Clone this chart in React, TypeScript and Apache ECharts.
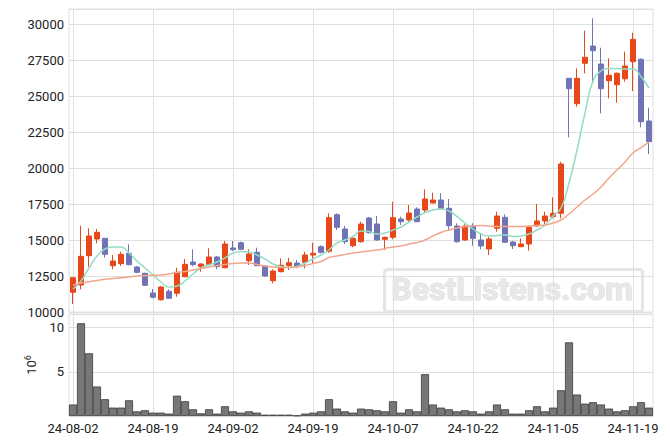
import React, { useEffect, useRef } from 'react';
import * as echarts from 'echarts';

const dates = [
  '24-08-02', '24-08-05', '24-08-06', '24-08-07', '24-08-08', '24-08-09', '24-08-12', '24-08-13', '24-08-14', '24-08-16',
  '24-08-19', '24-08-20', '24-08-21', '24-08-22', '24-08-23', '24-08-26', '24-08-27', '24-08-28', '24-08-29', '24-08-30',
  '24-09-02', '24-09-03', '24-09-04', '24-09-05', '24-09-06', '24-09-09', '24-09-10', '24-09-11', '24-09-12', '24-09-13',
  '24-09-19', '24-09-20', '24-09-23', '24-09-24', '24-09-25', '24-09-26', '24-09-27', '24-09-30', '24-10-02', '24-10-04',
  '24-10-07', '24-10-08', '24-10-10', '24-10-11', '24-10-14', '24-10-15', '24-10-16', '24-10-17', '24-10-18', '24-10-21',
  '24-10-22', '24-10-23', '24-10-24', '24-10-25', '24-10-28', '24-10-29', '24-10-30', '24-10-31', '24-11-01', '24-11-04',
  '24-11-05', '24-11-06', '24-11-07', '24-11-08', '24-11-11', '24-11-12', '24-11-13', '24-11-14', '24-11-15', '24-11-18',
  '24-11-19', '24-11-20', '24-11-21',
];

const opens = [
  11369, 11877, 13913, 15074, 15122, 13218, 13357, 14080, 13128, 12690,
  11321, 10855, 11439, 11300, 12453, 13475, 13149, 13315, 13823, 13079,
  14448, 14816, 13565, 14149, 13197, 12175, 12801, 13218, 13405, 13454,
  13962, 14538, 14219, 16762, 15769, 14608, 14886, 16533, 16116, 15053,
  15192, 16464, 16394, 17159, 17089, 17576, 17784, 17207, 15977, 15004,
  15977, 15004, 14379, 15817, 16582, 14865, 14538, 14726, 15977, 16325,
  16623, 16860, 26242, 24477, 27285, 28487, 27236, 26075, 25797, 26214,
  27396, 27563, 23275,
];
const closes = [
  12384, 13871, 15282, 15539, 14010, 13545, 14010, 13287, 12759, 11856,
  11022, 11738, 10952, 12759, 13315, 13287, 13336, 13823, 13149, 14726,
  14330, 14358, 14031, 13218, 12502, 12850, 13246, 13426, 13197, 13962,
  14080, 14149, 16554, 15887, 14886, 15122, 16116, 15511, 15004, 15192,
  16554, 16276, 16881, 16276, 17854, 17784, 17207, 15998, 14886, 15977,
  15122, 14587, 15074, 16672, 14844, 14608, 14726, 15887, 16325, 16672,
  16860, 20286, 25519, 26242, 27702, 28160, 25519, 26451, 26590, 27097,
  28953, 23226, 21836,
];
const lows = [
  10556, 11578, 13148, 14775, 13774, 12968, 13197, 13250, 12700, 11820,
  10952, 10785, 10904, 11063, 12410, 13176, 12801, 13218, 12968, 13040,
  14240, 14330, 13267, 13200, 12450, 11995, 12760, 12919, 13037, 13037,
  13385, 14080, 14121, 15699, 14726, 14497, 14816, 15450, 14955, 14309,
  15053, 16047, 16206, 16250, 16929, 17550, 17138, 15699, 14820, 14935,
  14608, 14358, 13962, 15581, 14800, 14379, 14520, 14260, 15930, 16095,
  16512, 16512, 22142, 24268, 26590, 25895, 23810, 24852, 24546, 26006,
  25360, 22837, 20981,
];
const highs = [
  12420, 15998, 15817, 15769, 15122, 13962, 14191, 14705, 13200, 12720,
  11599, 11800, 11578, 13079, 13684, 14357, 13380, 14427, 13900, 14935,
  14935, 14900, 14358, 14469, 13230, 12968, 13732, 13774, 13614, 14191,
  14816, 14630, 16860, 16860, 15977, 15233, 16276, 16600, 16672, 15240,
  17666, 16623, 17437, 17277, 18528, 18291, 18250, 17854, 16165, 16095,
  16165, 15470, 15233, 16971, 16790, 14935, 15122, 15998, 17506, 16971,
  17972, 20446, 26260, 26937, 29550, 30412, 28369, 27632, 26650, 28091,
  29411, 27632, 24199,
];
const ma5 = [
  11600, 12155, 13058, 13892, 14379, 14518, 14518, 14101, 13545, 13058,
  12572, 12085, 11738, 11807, 12155, 12641, 13058, 13267, 13475, 13753,
  14101, 14205, 14170, 13962, 13684, 13336, 13148, 13093, 13162, 13406,
  13684, 13962, 14309, 14796, 15004, 15247, 15630, 15595, 15421, 15491,
  15699, 15908, 16255, 16603, 16915, 17089, 17159, 17020, 16637, 16186,
  15769, 15421, 15282, 15317, 15352, 15247, 15282, 15421, 15699, 16047,
  16672, 17228, 18966, 21259, 23831, 26055, 26750, 26923, 26923, 26889,
  26889, 26367, 25568,
];
const ma20 = [
  11877, 12016, 12106, 12189, 12273, 12328, 12384, 12433, 12502, 12523,
  12551, 12572, 12641, 12745, 12815, 12919, 13023, 13128, 13232, 13301,
  13371, 13406, 13406, 13301, 13197, 13128, 13093, 13093, 13128, 13232,
  13371, 13510, 13788, 13892, 13996, 14101, 14170, 14240, 14309, 14413,
  14518, 14587, 14726, 14830, 15004, 15282, 15525, 15699, 15838, 15942,
  15977, 16012, 15977, 15942, 15942, 15942, 15942, 15977, 16012, 16047,
  16186, 16394, 16811, 17298, 17784, 18201, 18688, 19313, 19869, 20425,
  21051, 21433, 21815,
];
// volume in millions of shares
const volumes = [
  1.3, 10.5, 7.1, 3.34, 1.9, 0.95, 0.95, 1.78, 0.53, 0.65,
  0.38, 0.38, 0.27, 2.3, 1.67, 0.76, 0.3, 0.76, 0.27, 1.1,
  0.53, 0.38, 0.53, 0.38, 0.15, 0.15, 0.15, 0.15, 0.05, 0.27,
  0.38, 0.53, 1.9, 0.84, 0.53, 0.38, 0.84, 0.76, 0.65, 0.53,
  1.67, 0.38, 0.76, 0.53, 4.74, 1.3, 0.95, 0.76, 0.53, 0.65,
  0.53, 0.27, 0.53, 1.3, 0.76, 0.27, 0.27, 0.65, 1.1, 0.53,
  0.95, 2.92, 8.34, 2.43, 1.4, 1.56, 1.3, 0.84, 0.53, 0.65,
  1.1, 1.56, 0.95,
];

const UP = '#e8471a';
const DOWN = '#7174b4';
const GRID_LINE = '#e0e0e0';
const TEXT = '#222222';
const FONT = 'Roboto';

export default function App() {
  const ref = useRef<HTMLDivElement>(null);

  useEffect(() => {
    if (!ref.current) return;
    const chart = echarts.init(ref.current, null, { renderer: 'svg' });
    const candleData = dates.map((_, i) => [opens[i], closes[i], lows[i], highs[i]]);

    const option: any = {
      animation: false,
      backgroundColor: '#ffffff',
      textStyle: { fontFamily: FONT },
      grid: [
        { left: 69, width: 584, top: 9, height: 303, show: true, borderColor: GRID_LINE, borderWidth: 1 },
        { left: 69, width: 584, top: 314, height: 102, show: true, borderColor: GRID_LINE, borderWidth: 1 },
      ],
      xAxis: [
        {
          type: 'category', gridIndex: 0, data: dates, boundaryGap: true,
          axisLine: { show: false }, axisTick: { show: false }, axisLabel: { show: false },
          splitLine: { show: true, interval: 9, alignWithLabel: true, lineStyle: { color: GRID_LINE } },
        },
        {
          type: 'category', gridIndex: 1, data: dates, boundaryGap: true,
          axisLine: { show: false }, axisTick: { show: false, alignWithLabel: true },
          axisLabel: { interval: 9, color: TEXT, fontSize: 13, fontFamily: FONT, margin: 6 },
          splitLine: { show: true, interval: 9, alignWithLabel: true, lineStyle: { color: GRID_LINE } },
        },
      ],
      yAxis: [
        {
          type: 'value', gridIndex: 0, min: 10000, max: 31060, interval: 2500,
          axisLine: { show: false }, axisTick: { show: false },
          axisLabel: {
            color: TEXT, fontSize: 13, fontFamily: FONT, margin: 5, showMaxLabel: false,
            formatter: (v: number) => (v % 2500 === 0 ? String(v) : ''),
          },
          splitLine: { show: true, lineStyle: { color: GRID_LINE } },
        },
        {
          type: 'value', gridIndex: 1, min: 0, max: 11.55, interval: 5,
          axisLine: { show: false }, axisTick: { show: false },
          axisLabel: {
            color: TEXT, fontSize: 13, fontFamily: FONT, margin: 5, showMaxLabel: false,
            formatter: (v: number) => (v > 0 && v % 5 === 0 ? String(v) : ''),
          },
          splitLine: { show: true, lineStyle: { color: GRID_LINE } },
          name: '{a|10}{b|6}',
          nameLocation: 'middle',
          nameRotate: 90,
          nameGap: 25,
          nameTextStyle: {
            rich: {
              a: { fontSize: 13, color: TEXT, fontFamily: FONT },
              b: { fontSize: 9, color: TEXT, fontFamily: FONT, verticalAlign: 'top', padding: [0, 0, 8, 0] },
            },
          },
        },
      ],
      series: [
        {
          type: 'candlestick', xAxisIndex: 0, yAxisIndex: 0, data: candleData, barWidth: '68%',
          itemStyle: { color: UP, color0: DOWN, borderColor: UP, borderColor0: DOWN, borderWidth: 1 },
        },
        {
          type: 'line', xAxisIndex: 0, yAxisIndex: 0, data: ma5, smooth: true, showSymbol: false,
          lineStyle: { color: '#93dcc3', width: 1.5 }, itemStyle: { color: '#93dcc3' },
        },
        {
          type: 'line', xAxisIndex: 0, yAxisIndex: 0, data: ma20, smooth: true, showSymbol: false,
          lineStyle: { color: '#f1a68c', width: 1.5 }, itemStyle: { color: '#f1a68c' },
        },
        {
          type: 'bar', xAxisIndex: 1, yAxisIndex: 1, data: volumes, barCategoryGap: '0%',
          itemStyle: { color: '#777777', borderColor: '#3a3a3a', borderWidth: 0.8 },
        },
      ],
      graphic: [
        {
          type: 'rect', left: 383, top: 268, z: 0,
          shape: { width: 258, height: 42, r: 3 },
          style: { fill: 'rgba(0,0,0,0)', stroke: '#e5e5e5', lineWidth: 3 },
        },
        {
          type: 'text', x: 512, y: 289, z: 0,
          style: {
            text: 'BestListens.com', font: 'bold 32px Roboto', fill: '#e8e8e8',
            stroke: '#dcdcdc', lineWidth: 1, align: 'center', verticalAlign: 'middle',
          },
        },
      ],
    };

    chart.setOption(option);
    return () => chart.dispose();
  }, []);

  return <div ref={ref} style={{ position: 'fixed', left: 0, top: 0, width: 670, height: 444 }} />;
}
